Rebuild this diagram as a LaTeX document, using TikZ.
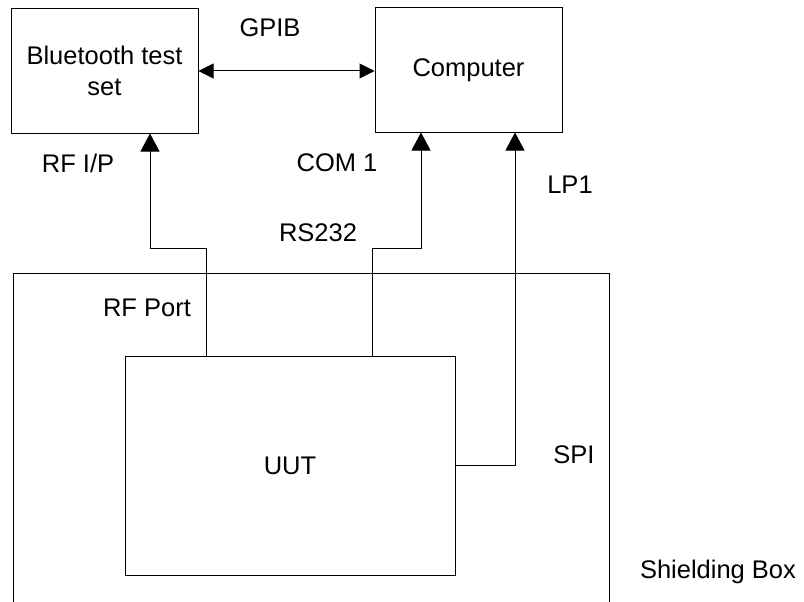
\documentclass[tikz,border=0pt]{standalone}
\usepackage{fontspec}
\setmainfont{Liberation Sans}
\usetikzlibrary{arrows.meta}
\begin{document}
\begin{tikzpicture}[x=1pt,y=-1pt,
  every node/.style={font=\fontsize{25.5}{31}\selectfont, inner sep=0pt},
  box/.style={draw, line width=1pt, fill=white},
  wire/.style={line width=1pt},
  arr/.style={wire, -{Triangle[length=18pt,width=19pt]}},
  garr/.style={wire, {Triangle[length=15pt,width=15pt]}-{Triangle[length=15pt,width=15pt]}},
  lbl/.style={anchor=center}]
\useasboundingbox (0,0) rectangle (804,602);
\fill[white] (0,0) rectangle (804,602);
% shielding box (open at bottom)
\draw[wire] (13,602) -- (13,273) -- (609,273) -- (609,602);
% boxes
\node[box, minimum width=187pt, minimum height=124pt, align=center] (bt) at (104.5,71) {Bluetooth test\\set};
\node[box, minimum width=187pt, minimum height=124pt] (comp) at (468.5,70) {Computer};
\node[box, minimum width=330pt, minimum height=219pt] (uut) at (290,466) {UUT};
% routing coordinates
\coordinate (rfp) at (206,248);
\coordinate (rfx) at (150,248);
\coordinate (rsp) at (372,248);
\coordinate (rsx) at (421,248);
\coordinate (lpy) at (515,465);
% connectors
\draw[garr] (bt.east) -- (comp.west |- bt.east);
\draw[arr] (uut.north -| rfp) -- (rfp) -- (rfx) -- (bt.south -| rfx);
\draw[arr] (uut.north -| rsp) -- (rsp) -- (rsx) -- (comp.south -| rsx);
\draw[arr] (uut.east |- lpy) -- (lpy) -- (comp.south -| lpy);
% labels
\node[lbl] (gpib) at (270,28) {GPIB};
\node[lbl] (rfip) at (78,163) {RF I/P};
\node[lbl] (com1) at (337,163) {COM 1};
\node[lbl] (rs232) at (318,233) {RS232};
\node[lbl] (lp1) at (570,185) {LP1};
\node[lbl] (rfport) at (147,308) {RF Port};
\node[lbl] (spi) at (574,455) {SPI};
\node[lbl] (shield) at (718,572) {Shielding Box};
\end{tikzpicture}
\end{document}
